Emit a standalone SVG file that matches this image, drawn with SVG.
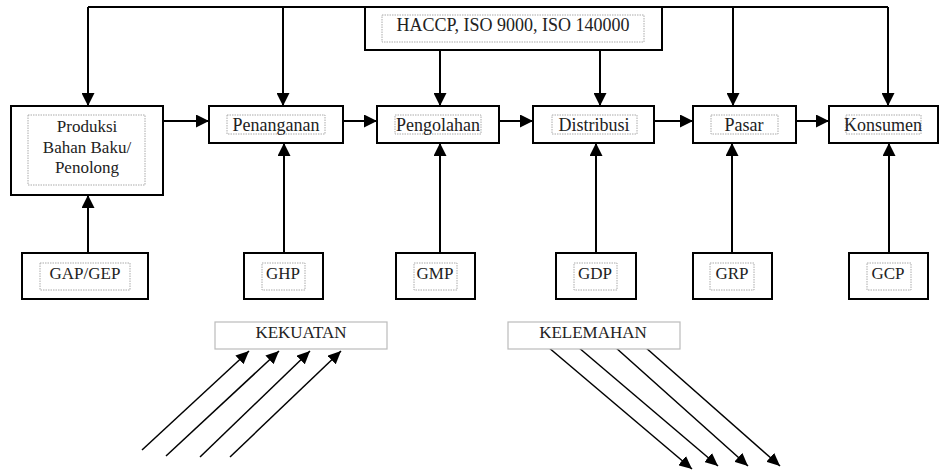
<svg xmlns="http://www.w3.org/2000/svg" width="942" height="471" viewBox="0 0 942 471">
  <defs>
    <marker id="arrow" markerUnits="userSpaceOnUse" markerWidth="13" markerHeight="13" refX="13" refY="6.5" orient="auto">
      <path d="M0,0 L13,6.5 L0,13 z" fill="#000"/>
    </marker>
    <marker id="arrowThin" markerUnits="userSpaceOnUse" markerWidth="13" markerHeight="12" refX="13" refY="6" orient="auto">
      <path d="M0,0 L13,6 L0,12 z" fill="#000"/>
    </marker>
  </defs>
  <style>
    .box { fill: #fff; stroke: #000; stroke-width: 2; }
    .inner { fill: none; stroke: #aaa; stroke-width: 1; stroke-dasharray: 1.5 1; }
    .plain { fill: #fff; stroke: #bbb; stroke-width: 1.2; }
    .lbl { font-family: "Liberation Serif", "Times New Roman", serif; font-size: 18px; fill: #222; text-anchor: middle; }
    .conn { fill: none; stroke: #000; stroke-width: 2; }
    .diag { fill: none; stroke: #000; stroke-width: 1.5; }
  </style>
  <rect width="942" height="471" fill="#fff"/>

  <!-- connectors -->
  <g id="connectors">
    <path class="conn" d="M88,7 H888"/>
    <path class="conn" d="M88,7 V106" marker-end="url(#arrow)"/>
    <path class="conn" d="M283,7 V106" marker-end="url(#arrow)"/>
    <path class="conn" d="M733,7 V106" marker-end="url(#arrow)"/>
    <path class="conn" d="M888,7 V106" marker-end="url(#arrow)"/>
    <path class="conn" d="M440,50 V106" marker-end="url(#arrow)"/>
    <path class="conn" d="M600,50 V106" marker-end="url(#arrow)"/>

    <path class="conn" d="M163,121 H209" marker-end="url(#arrow)"/>
    <path class="conn" d="M343,121 H377" marker-end="url(#arrow)"/>
    <path class="conn" d="M499,121 H533" marker-end="url(#arrow)"/>
    <path class="conn" d="M655,121 H693" marker-end="url(#arrow)"/>
    <path class="conn" d="M791,121 H829" marker-end="url(#arrow)"/>

    <path class="conn" d="M88,253 V195" marker-end="url(#arrow)"/>
    <path class="conn" d="M284,253 V143" marker-end="url(#arrow)"/>
    <path class="conn" d="M440,253 V143" marker-end="url(#arrow)"/>
    <path class="conn" d="M596,253 V143" marker-end="url(#arrow)"/>
    <path class="conn" d="M732,253 V143" marker-end="url(#arrow)"/>
    <path class="conn" d="M889,253 V143" marker-end="url(#arrow)"/>

    <path class="diag" d="M142,450 L249,351" marker-end="url(#arrowThin)"/>
    <path class="diag" d="M166,456 L279,351" marker-end="url(#arrowThin)"/>
    <path class="diag" d="M200,457 L310,351" marker-end="url(#arrowThin)"/>
    <path class="diag" d="M230,457 L341,351" marker-end="url(#arrowThin)"/>

    <path class="diag" d="M548,347 L692,469" marker-end="url(#arrowThin)"/>
    <path class="diag" d="M578,347 L718,466" marker-end="url(#arrowThin)"/>
    <path class="diag" d="M615,347 L748,466" marker-end="url(#arrowThin)"/>
    <path class="diag" d="M645,347 L780,466" marker-end="url(#arrowThin)"/>
  </g>

  <g id="haccp">
    <rect class="box" x="365" y="7" width="297" height="43"/>
    <rect class="inner" x="382" y="15" width="262" height="27"/>
    <text class="lbl" x="513" y="31">HACCP, ISO 9000, ISO 140000</text>
  </g>

  <g id="produksi">
    <rect class="box" x="11" y="106" width="152" height="89"/>
    <rect class="inner" x="28" y="115" width="117" height="70"/>
    <text class="lbl" x="87" y="132" style="font-size:17px">Produksi</text>
    <text class="lbl" x="87" y="153" style="font-size:17px">Bahan Baku/</text>
    <text class="lbl" x="87" y="173" style="font-size:17px">Penolong</text>
  </g>

  <g id="penanganan">
    <rect class="box" x="209" y="106" width="134" height="37"/>
    <rect class="inner" x="227" y="115" width="98" height="19"/>
    <text class="lbl" x="276" y="131">Penanganan</text>
  </g>

  <g id="pengolahan">
    <rect class="box" x="377" y="106" width="122" height="37"/>
    <rect class="inner" x="395" y="115" width="86" height="19"/>
    <text class="lbl" x="438" y="131">Pengolahan</text>
  </g>

  <g id="distribusi">
    <rect class="box" x="533" y="106" width="121" height="37"/>
    <rect class="inner" x="552" y="115" width="85" height="19"/>
    <text class="lbl" x="594" y="131">Distribusi</text>
  </g>

  <g id="pasar">
    <rect class="box" x="693" y="106" width="103" height="37"/>
    <rect class="inner" x="711" y="115" width="67" height="19"/>
    <text class="lbl" x="744" y="131">Pasar</text>
  </g>

  <g id="konsumen">
    <rect class="box" x="829" y="106" width="109" height="37"/>
    <rect class="inner" x="846" y="115" width="75" height="19"/>
    <text class="lbl" x="883" y="131">Konsumen</text>
  </g>

  <g id="gap-gep">
    <rect class="box" x="22" y="253" width="126" height="46"/>
    <rect class="inner" x="40" y="263" width="90" height="27"/>
    <text class="lbl" x="85" y="279" style="font-size:17px">GAP/GEP</text>
  </g>

  <g id="ghp">
    <rect class="box" x="244" y="253" width="79" height="46"/>
    <rect class="inner" x="262" y="263" width="43" height="27"/>
    <text class="lbl" x="283" y="279" style="font-size:17px">GHP</text>
  </g>

  <g id="gmp">
    <rect class="box" x="396" y="253" width="79" height="46"/>
    <rect class="inner" x="414" y="263" width="43" height="27"/>
    <text class="lbl" x="435" y="279" style="font-size:17px">GMP</text>
  </g>

  <g id="gdp">
    <rect class="box" x="556" y="253" width="80" height="46"/>
    <rect class="inner" x="574" y="263" width="43" height="27"/>
    <text class="lbl" x="595" y="279" style="font-size:17px">GDP</text>
  </g>

  <g id="grp">
    <rect class="box" x="693" y="253" width="79" height="46"/>
    <rect class="inner" x="710" y="263" width="44" height="27"/>
    <text class="lbl" x="732" y="279" style="font-size:17px">GRP</text>
  </g>

  <g id="gcp">
    <rect class="box" x="849" y="253" width="79" height="46"/>
    <rect class="inner" x="867" y="263" width="44" height="27"/>
    <text class="lbl" x="888" y="279" style="font-size:17px">GCP</text>
  </g>

  <g id="kekuatan">
    <rect class="plain" x="215" y="322" width="172" height="27"/>
    <text class="lbl" x="301" y="338" style="font-size:17px">KEKUATAN</text>
  </g>

  <g id="kelemahan">
    <rect class="plain" x="508" y="322" width="172" height="27"/>
    <text class="lbl" x="593" y="338" style="font-size:17px">KELEMAHAN</text>
  </g>
</svg>
